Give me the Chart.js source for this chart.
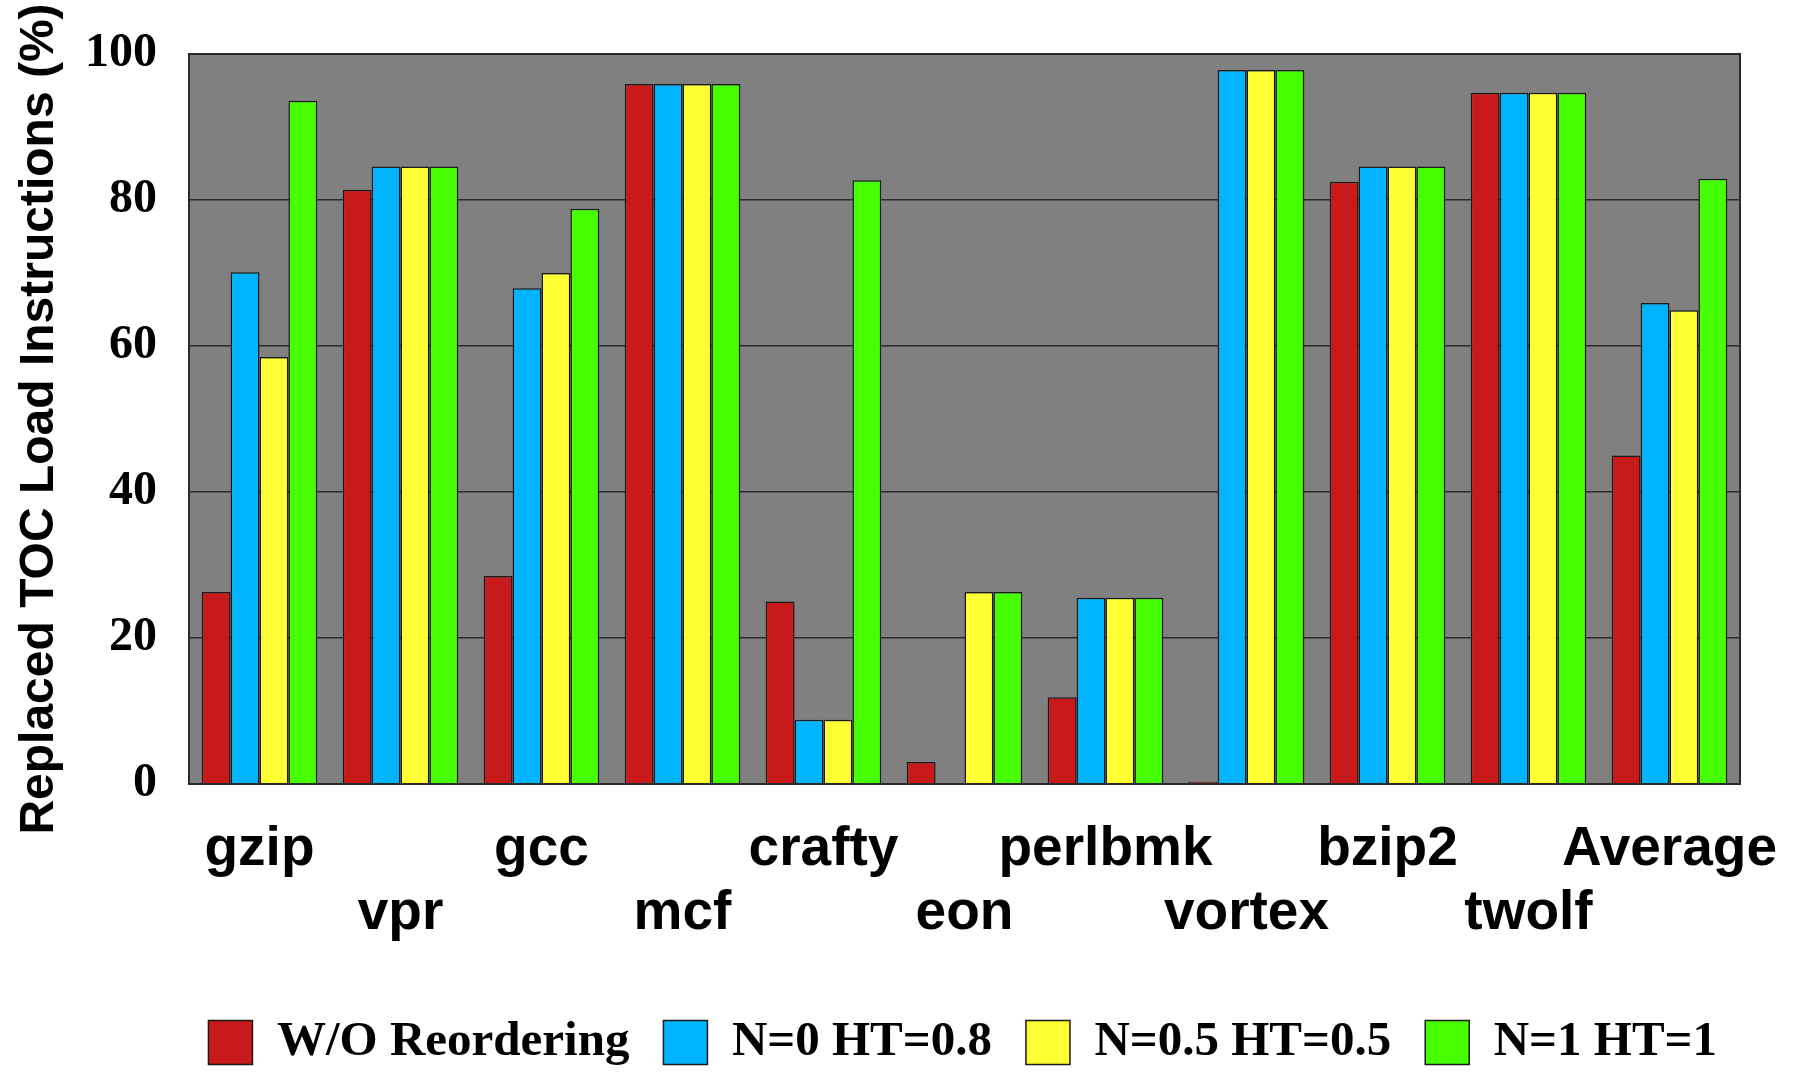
<!DOCTYPE html>
<html>
<head>
<meta charset="utf-8">
<script src="https://cdn.jsdelivr.net/npm/chart.js@4.4.1/dist/chart.umd.min.js"></script>
<style>
  html, body { margin: 0; padding: 0; background: #ffffff; }
  #wrap { width: 1795px; height: 1073px; position: relative; }
</style>
</head>
<body>
<div id="wrap"><canvas id="chart" width="1795" height="1073"></canvas></div>
<script>
// SPEC CPU2000 benchmarks
const benchmarks = ['gzip', 'vpr', 'gcc', 'mcf', 'crafty', 'eon', 'perlbmk', 'vortex', 'bzip2', 'twolf', 'Average'];

// Replaced TOC load instructions (%) for each configuration
const woReordering = [26.3, 81.4, 28.5, 95.9, 25.0, 3.0, 11.9, 0.3, 82.5, 94.7, 45.0];
const n0ht08      = [70.1, 84.6, 67.9, 95.9, 8.8, 0.0, 25.5, 97.8, 84.6, 94.7, 65.9];
const n05ht05     = [58.5, 84.6, 70.0, 95.9, 8.8, 26.3, 25.5, 97.8, 84.6, 94.7, 64.9];
const n1ht1       = [93.6, 84.6, 78.8, 95.9, 82.7, 26.3, 25.5, 97.8, 84.6, 94.7, 82.9];

const seriesNames = ['W/O Reordering', 'N=0 HT=0.8', 'N=0.5 HT=0.5', 'N=1 HT=1'];
const yTicks = [0, 20, 40, 60, 80, 100];

const colors = ['#C81A1A', '#00B4FF', '#FFFF33', '#46FF00'];
const edge = '#1a1a1a';

// gray plot background and dark frame around the plotting area
const plotFrame = {
  id: 'plotFrame',
  afterLayout(chart) {
    // nudge the legend row slightly right and down, under the plot area
    const lg = chart.legend;
    if (lg) { lg.left += 11; lg.right += 11; lg.top += 4; lg.bottom += 4; }
  },
  beforeDraw(chart) {
    const { ctx, chartArea: a } = chart;
    ctx.save();
    ctx.fillStyle = '#808080';
    ctx.fillRect(a.left, a.top, a.right - a.left, a.bottom - a.top);
    ctx.restore();
  },
  afterDraw(chart) {
    const { ctx, chartArea: a } = chart;
    ctx.save();
    ctx.strokeStyle = '#2a2a2a';
    ctx.lineWidth = 2;
    ctx.strokeRect(a.left, a.top, a.right - a.left, a.bottom - a.top);
    ctx.restore();
  }
};

const series = [woReordering, n0ht08, n05ht05, n1ht1];

new Chart(document.getElementById('chart'), {
  type: 'bar',
  data: {
    labels: benchmarks,
    datasets: series.map((vals, i) => ({
      label: seriesNames[i],
      data: vals,
      backgroundColor: colors[i],
      borderColor: edge,
      borderWidth: 1.5,
      borderSkipped: 'bottom',
      categoryPercentage: 0.82,
      barPercentage: 1.0
    }))
  },
  options: {
    responsive: false,
    animation: false,
    layout: { padding: { left: 0, right: 55, top: 54, bottom: 0 } },
    plugins: {
      tooltip: { enabled: false },
      legend: {
        position: 'bottom',
        align: 'end',
        labels: {
          boxWidth: 44,
          boxHeight: 44,
          padding: 34,
          color: '#000',
          font: { family: '"Liberation Serif", "Times New Roman", serif', weight: 'bold', size: 49 }
        }
      }
    },
    scales: {
      x: {
        afterFit(scale) { scale.paddingLeft = 0; scale.paddingRight = 0; },
        grid: { display: false, drawTicks: false },
        border: { display: true, color: '#2a2a2a', width: 2 },
        ticks: {
          padding: 34,
          color: '#000',
          maxRotation: 0,
          autoSkip: false,
          font: { family: '"Liberation Sans", Arial, sans-serif', weight: 'bold', size: 55, lineHeight: 64 / 55 },
          callback: (v, i) => (i % 2 === 0 ? [benchmarks[i]] : ['', benchmarks[i]])
        }
      },
      y: {
        min: 0,
        max: 100,
        afterFit(scale) { scale.width = 189; scale.paddingTop = 0; scale.paddingBottom = 0; },
        afterBuildTicks(scale) { scale.ticks = yTicks.map(v => ({ value: v })); },
        grid: { color: '#2a2a2a', lineWidth: 1.5, drawTicks: false },
        border: { display: true, color: '#2a2a2a', width: 2 },
        ticks: {
          padding: 32,
          color: '#000',
          font: { family: '"Liberation Serif", "Times New Roman", serif', weight: 'bold', size: 48 }
        },
        title: {
          display: true,
          text: 'Replaced TOC Load Instructions (%)',
          color: '#000',
          padding: { top: 11, bottom: 0 },
          font: { family: '"Liberation Sans", Arial, sans-serif', weight: 'bold', size: 48 }
        }
      }
    }
  },
  plugins: [plotFrame]
});
</script>
</body>
</html>
